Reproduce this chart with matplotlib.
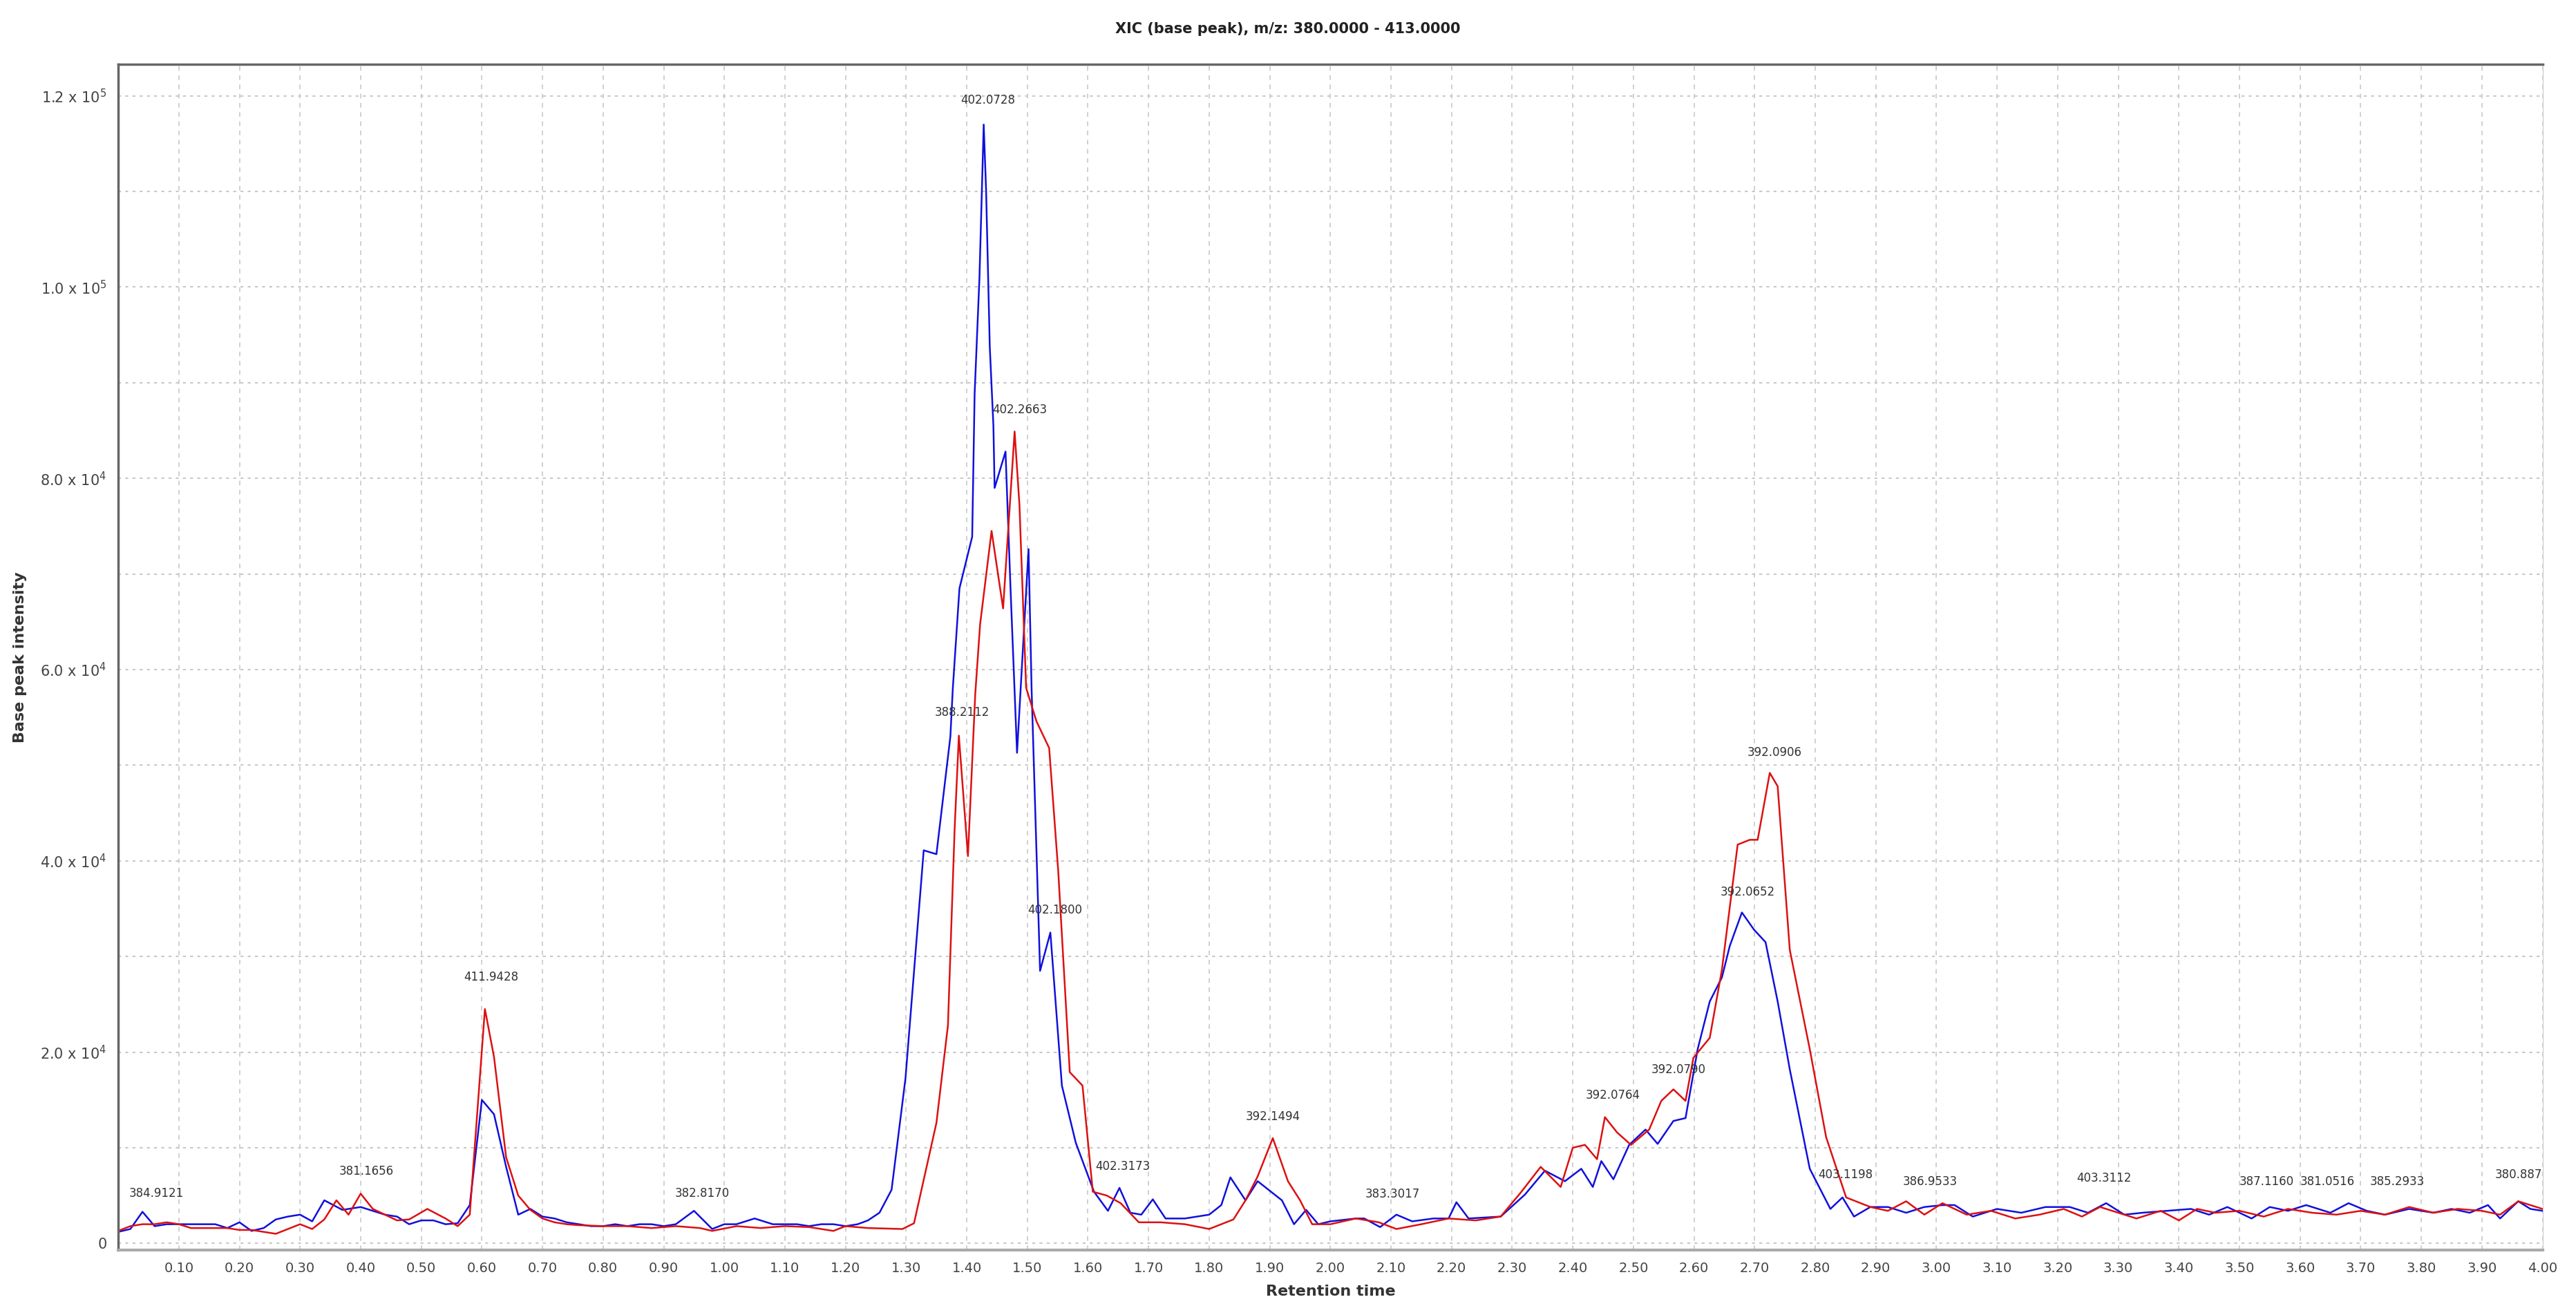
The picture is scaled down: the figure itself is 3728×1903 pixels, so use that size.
import matplotlib.pyplot as plt
import numpy as np

# retention time (min) and base peak intensity for the two traces
blue_t = [0.00, 0.02, 0.04, 0.06, 0.08, 0.10, 0.12, 0.14, 0.16, 0.18, 0.20, 0.22, 0.24, 0.26,
          0.28, 0.30, 0.32, 0.34, 0.37, 0.40, 0.42, 0.44, 0.46, 0.48, 0.50, 0.52, 0.54,
          0.56, 0.58, 0.60, 0.62, 0.64, 0.66, 0.68, 0.70, 0.72, 0.74, 0.76, 0.78, 0.80,
          0.82, 0.84, 0.86, 0.88, 0.90, 0.92, 0.95, 0.98, 1.00, 1.02, 1.05, 1.08, 1.10,
          1.12, 1.14, 1.16, 1.18, 1.20, 1.22, 1.237, 1.256, 1.276, 1.299, 1.329, 1.350,
          1.373, 1.377, 1.388, 1.409, 1.413, 1.421, 1.428, 1.432, 1.438, 1.444, 1.446,
          1.464, 1.472, 1.483, 1.502, 1.507, 1.513, 1.521, 1.538, 1.557, 1.580, 1.610,
          1.633, 1.652, 1.670, 1.688, 1.707, 1.728, 1.76, 1.80, 1.82, 1.835, 1.86, 1.88,
          1.90, 1.92, 1.94, 1.96, 1.98, 2.00, 2.042, 2.056, 2.082, 2.109, 2.135, 2.17,
          2.195, 2.208, 2.228, 2.281, 2.321, 2.354, 2.387, 2.414, 2.433, 2.447, 2.467,
          2.493, 2.520, 2.540, 2.566, 2.586, 2.606, 2.626, 2.646, 2.659, 2.679, 2.699,
          2.718, 2.738, 2.758, 2.791, 2.825, 2.845, 2.864, 2.891, 2.92, 2.95, 2.98, 3.01,
          3.03, 3.06, 3.10, 3.14, 3.18, 3.22, 3.25, 3.28, 3.31, 3.34, 3.38, 3.42, 3.45,
          3.48, 3.52, 3.55, 3.58, 3.61, 3.65, 3.68, 3.71, 3.74, 3.78, 3.82, 3.85, 3.88,
          3.91, 3.93, 3.96, 3.98, 4.00]
blue_v = [1.2, 1.5, 3.3, 1.8, 2.0, 2.0, 2.0, 2.0, 2.0, 1.6, 2.2, 1.3, 1.6, 2.5,
          2.8, 3.0, 2.3, 4.5, 3.5, 3.8, 3.4, 3.0, 2.8, 2.0, 2.4, 2.4, 2.0,
          2.1, 4.0, 15.0, 13.5, 8.0, 3.0, 3.6, 2.8, 2.6, 2.2, 2.0, 1.8, 1.8,
          2.0, 1.8, 2.0, 2.0, 1.8, 2.0, 3.4, 1.5, 2.0, 2.0, 2.6, 2.0, 2.0,
          2.0, 1.8, 2.0, 2.0, 1.8, 2.0, 2.4, 3.2, 5.6, 17.3, 41.1, 40.7,
          53.0, 58.0, 68.5, 73.9, 88.8, 101.0, 117.0, 110.0, 93.8, 85.5, 79.0,
          82.8, 68.9, 51.3, 72.6, 58.0, 45.3, 28.5, 32.5, 16.5, 10.5, 5.4,
          3.4, 5.8, 3.2, 3.0, 4.6, 2.6, 2.6, 3.0, 4.0, 6.9, 4.5, 6.5,
          5.5, 4.5, 2.0, 3.5, 2.0, 2.3, 2.6, 2.6, 1.7, 3.0, 2.3, 2.6,
          2.6, 4.3, 2.6, 2.8, 5.1, 7.6, 6.5, 7.8, 5.9, 8.6, 6.7,
          10.3, 11.9, 10.4, 12.8, 13.1, 20.3, 25.3, 27.8, 31.1, 34.6, 32.8,
          31.5, 25.3, 18.2, 7.8, 3.6, 4.8, 2.8, 3.8, 3.8, 3.2, 3.8, 4.0,
          4.0, 2.8, 3.6, 3.2, 3.8, 3.8, 3.2, 4.2, 3.0, 3.2, 3.4, 3.6, 3.0,
          3.8, 2.6, 3.8, 3.4, 4.0, 3.2, 4.2, 3.4, 3.0, 3.6, 3.2, 3.6, 3.2,
          4.0, 2.6, 4.4, 3.6, 3.4]

red_t = [0.00, 0.02, 0.04, 0.06, 0.08, 0.10, 0.12, 0.14, 0.16, 0.18, 0.20, 0.22, 0.24, 0.26,
         0.28, 0.30, 0.32, 0.34, 0.36, 0.38, 0.40, 0.42, 0.44, 0.46, 0.48, 0.51, 0.54,
         0.56, 0.58, 0.605, 0.62, 0.64, 0.66, 0.68, 0.70, 0.72, 0.74, 0.76, 0.80, 0.84,
         0.88, 0.92, 0.96, 0.98, 1.02, 1.06, 1.10, 1.14, 1.18, 1.20, 1.237, 1.294,
         1.313, 1.350, 1.369, 1.380, 1.387, 1.402, 1.414, 1.422, 1.441, 1.460, 1.479,
         1.487, 1.498, 1.515, 1.536, 1.551, 1.570, 1.591, 1.608, 1.631, 1.654, 1.684,
         1.72, 1.76, 1.80, 1.82, 1.84, 1.86, 1.88, 1.905, 1.93, 1.95, 1.97, 2.00,
         2.042, 2.08, 2.109, 2.15, 2.195, 2.24, 2.281, 2.314, 2.347, 2.380, 2.400,
         2.420, 2.440, 2.453, 2.473, 2.496, 2.526, 2.546, 2.566, 2.586, 2.599, 2.626,
         2.646, 2.672, 2.692, 2.705, 2.725, 2.738, 2.758, 2.791, 2.818, 2.851, 2.891,
         2.92, 2.95, 2.98, 3.01, 3.05, 3.09, 3.13, 3.17, 3.21, 3.24, 3.27, 3.30, 3.33,
         3.37, 3.40, 3.43, 3.46, 3.50, 3.54, 3.58, 3.62, 3.66, 3.70, 3.74, 3.78, 3.82,
         3.86, 3.90, 3.93, 3.96, 3.98, 4.00]
red_v = [1.3, 1.8, 2.0, 2.0, 2.2, 2.0, 1.6, 1.6, 1.6, 1.6, 1.4, 1.4, 1.2, 1.0,
         1.5, 2.0, 1.5, 2.5, 4.5, 3.0, 5.2, 3.6, 3.0, 2.4, 2.5, 3.6, 2.6,
         1.8, 3.0, 24.5, 19.5, 9.0, 5.0, 3.5, 2.6, 2.2, 2.0, 1.9, 1.8, 1.8,
         1.6, 1.8, 1.6, 1.3, 1.8, 1.6, 1.8, 1.7, 1.3, 1.8, 1.6, 1.5,
         2.1, 12.6, 22.8, 43.3, 53.1, 40.5, 57.4, 64.7, 74.5, 66.4, 84.9,
         77.2, 58.1, 54.6, 51.8, 38.9, 17.9, 16.5, 5.4, 5.0, 4.2, 2.2,
         2.2, 2.0, 1.5, 2.0, 2.5, 4.5, 7.0, 11.0, 6.5, 4.5, 2.0, 2.0,
         2.6, 2.2, 1.5, 2.0, 2.6, 2.4, 2.8, 5.3, 8.0, 5.9, 10.0,
         10.3, 8.8, 13.2, 11.6, 10.3, 11.9, 14.9, 16.1, 14.9, 19.4, 21.5,
         28.6, 41.7, 42.2, 42.2, 49.2, 47.8, 30.7, 20.3, 11.1, 4.8, 3.8,
         3.4, 4.4, 3.0, 4.2, 3.0, 3.4, 2.6, 3.0, 3.6, 2.8, 3.8, 3.2, 2.6,
         3.4, 2.4, 3.6, 3.2, 3.4, 2.8, 3.6, 3.2, 3.0, 3.4, 3.0, 3.8, 3.2,
         3.6, 3.4, 3.0, 4.4, 4.0, 3.6]

# peak annotations: (retention time, intensity, m/z label)
label_t = [0.063, 0.41, 0.615, 0.964, 1.392, 1.435, 1.487, 1.546, 1.657, 1.905, 2.103,
           2.466, 2.574, 2.688, 2.733, 2.85, 2.99, 3.277, 3.545, 3.645, 3.76, 3.96]
label_v = [4.6, 6.9, 27.2, 4.6, 54.9, 118.9, 86.5, 34.2, 7.4, 12.6, 4.5,
           14.8, 17.5, 36.1, 50.7, 6.5, 5.8, 6.2, 5.8, 5.8, 5.8, 6.5]
label_txt = ["384.9121", "381.1656", "411.9428", "382.8170", "388.2112", "402.0728",
             "402.2663", "402.1800", "402.3173", "392.1494", "383.3017", "392.0764",
             "392.0790", "392.0652", "392.0906", "403.1198", "386.9533", "403.3112",
             "387.1160", "381.0516", "385.2933", "380.887"]

fig = plt.figure(figsize=(37.28, 19.03), dpi=100)
ax = fig.add_axes([0.0459, 0.0494, 0.9411, 0.9017])

ax.plot(blue_t, np.array(blue_v) * 1e3, color="#1010dd", lw=1.8)
ax.plot(red_t, np.array(red_v) * 1e3, color="#dd1010", lw=1.8)

for t, v, s in zip(label_t, label_v, label_txt):
    ax.text(t, v * 1e3, s, ha="center", va="bottom", fontsize=12, color="#333333",
            clip_on=True)

ax.set_xlim(0, 4.0)
ax.set_ylim(-700, 123300)

xt = np.arange(1, 41) / 10
ax.set_xticks(xt)
ax.set_xticklabels([f"{x:.2f}" for x in xt], fontsize=14, color="#444444")
yt = [0, 20000, 40000, 60000, 80000, 100000, 120000]
ylabels = ["0"] + [rf"{v / 10 ** int(np.log10(v)):.1f} x 10$^{{{int(np.log10(v))}}}$"
                   for v in yt[1:]]
ax.set_yticks(yt)
ax.set_yticklabels(ylabels, fontsize=15, color="#444444")
ax.set_yticks(np.arange(10000, 125000, 20000), minor=True)
ax.tick_params(axis="both", length=0, pad=12)
ax.tick_params(axis="y", which="minor", length=0)

ax.grid(axis="x", color="#c8c8c8", linestyle=(0, (4, 4)), lw=1.2)
ax.grid(axis="y", which="both", color="#c8c8c8", linestyle=(0, (2, 3)), lw=1.5)
for side in ["left", "top"]:
    ax.spines[side].set_color("#666666")
    ax.spines[side].set_linewidth(2.5)
ax.spines["bottom"].set_color("#aaaaaa")
ax.spines["bottom"].set_linewidth(3)
ax.spines["right"].set_color("#cccccc")

ax.set_xlabel("Retention time", fontsize=16, fontweight="bold", color="#333333", labelpad=10)
ax.set_ylabel("Base peak intensity", fontsize=16, fontweight="bold", color="#333333", labelpad=14)
fig.text(0.5, 0.978, "XIC (base peak), m/z: 380.0000 - 413.0000", ha="center", va="center",
         fontsize=15, fontweight="bold", color="#222222")

fig.savefig("out.png", dpi=100)
